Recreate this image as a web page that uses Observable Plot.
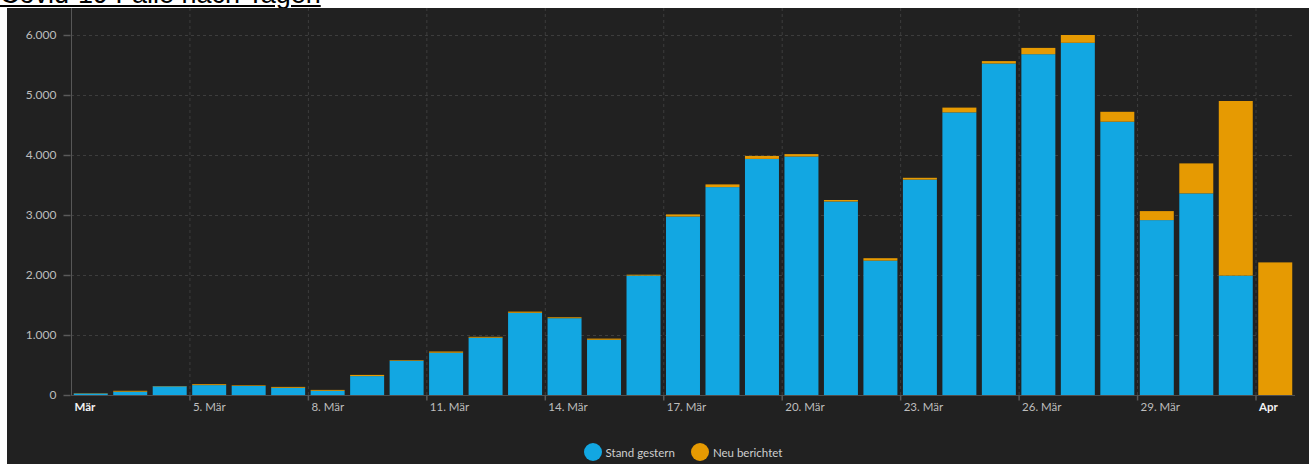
<!DOCTYPE html>
<html lang="de">
<head>
<meta charset="utf-8">
<script src="https://cdn.jsdelivr.net/npm/d3@7"></script>
<script src="https://cdn.jsdelivr.net/npm/@observablehq/plot@0.6"></script>
<style>
  html, body { margin: 0; padding: 0; background: #ffffff; }
  body { position: relative; width: 1309px; height: 464px; overflow: hidden; }
  #title {
    position: absolute; left: 0; top: -21px; z-index: 0;
    font-family: "Liberation Sans", Arial, sans-serif; font-size: 27px; line-height: 30px;
    color: #000; text-decoration: underline; white-space: nowrap;
  }
  #panel {
    position: absolute; left: 7px; top: 8px; width: 1302px; height: 456px;
    background: #212121; z-index: 1;
  }
  #chart svg { display: block; }
  #legend {
    position: absolute; left: 64px; width: 1224px; top: 435px; height: 18px;
    display: flex; justify-content: center; align-items: center; gap: 16px;
    font-family: Lato, "Open Sans", sans-serif; font-size: 11.5px; color: #cfcfcf;
  }
  #legend .item { display: flex; align-items: center; gap: 4px; }
  #legend .swatch { width: 18px; height: 18px; border-radius: 50%; }
</style>
</head>
<body>
<div id="title">Covid-19 Fälle nach Tagen</div>
<div id="panel">
  <div id="chart"></div>
  <div id="legend"></div>
</div>
<script>
// Daily case counts, 2 March to 1 April
const days = [
  "2020-03-02", "2020-03-03", "2020-03-04", "2020-03-05", "2020-03-06", "2020-03-07",
  "2020-03-08", "2020-03-09", "2020-03-10", "2020-03-11", "2020-03-12", "2020-03-13",
  "2020-03-14", "2020-03-15", "2020-03-16", "2020-03-17", "2020-03-18", "2020-03-19",
  "2020-03-20", "2020-03-21", "2020-03-22", "2020-03-23", "2020-03-24", "2020-03-25",
  "2020-03-26", "2020-03-27", "2020-03-28", "2020-03-29", "2020-03-30", "2020-03-31",
  "2020-04-01"
];
const standGestern = [
  25, 55, 145, 165, 150, 120, 70, 315, 570, 705, 955, 1370, 1280, 920, 1990, 2975,
  3465, 3935, 3975, 3225, 2240, 3590, 4710, 5525, 5680, 5870, 4555, 2915, 3360, 1990, 0
];
const neuBerichtet = [
  5, 15, 5, 15, 10, 15, 15, 20, 10, 20, 15, 20, 15, 20, 15, 35,
  45, 50, 40, 25, 40, 30, 80, 40, 105, 130, 165, 150, 500, 2910, 2210
];
const seriesNames = ["Stand gestern", "Neu berichtet"];
const seriesColors = ["#12a7e2", "#e69a02"];

// Axis ticks
const yTicks = [0, 1000, 2000, 3000, 4000, 5000, 6000];
const xTickDays = [
  "2020-03-02", "2020-03-05", "2020-03-08", "2020-03-11", "2020-03-14", "2020-03-17",
  "2020-03-20", "2020-03-23", "2020-03-26", "2020-03-29", "2020-04-01"
];
const xTickLabels = [
  "Mär", "5. Mär", "8. Mär", "11. Mär", "14. Mär", "17. Mär",
  "20. Mär", "23. Mär", "26. Mär", "29. Mär", "Apr"
];
const monthLabels = ["Mär", "Apr"];

const parseDay = s => new Date(s + "T00:00:00Z");
const xStart = parseDay(days[0]);
const xEnd = d3.utcDay.offset(parseDay(days[days.length - 1]), 1);

// One row per day and series; Plot stacks them per day
const rows = [];
days.forEach((s, i) => {
  const start = parseDay(s);
  const end = d3.utcDay.offset(start, 1);
  rows.push({start, end, series: seriesNames[0], value: standGestern[i]});
  rows.push({start, end, series: seriesNames[1], value: neuBerichtet[i]});
});

const ticks = xTickDays.map((s, i) => ({date: parseDay(s), label: xTickLabels[i]}));
const fmt = d => d3.format(",")(d).replace(/,/g, ".");

// Short tick marks as dot symbols
const hTick = {draw(ctx) { ctx.moveTo(-3.5, 0); ctx.lineTo(3.5, 0); }};
const vTick = {draw(ctx) { ctx.moveTo(0, -2.5); ctx.lineTo(0, 2.5); }};

const chart = Plot.plot({
  width: 1302,
  height: 412,
  marginLeft: 64,
  marginRight: 14,
  marginTop: 0,
  marginBottom: 25,
  style: {background: "transparent", fontFamily: "Lato, 'Open Sans', sans-serif", fontSize: "11.5px"},
  x: {type: "utc", domain: [xStart, xEnd], axis: null},
  y: {domain: [0, 6450], axis: null},
  color: {domain: seriesNames, range: seriesColors},
  marks: [
    // dashed grid
    Plot.ruleY(yTicks.filter(d => d > 0), {stroke: "#3d3d3d", strokeDasharray: "3,3"}),
    Plot.ruleX(ticks.slice(1), {x: "date", stroke: "#3d3d3d", strokeDasharray: "3,3"}),
    // stacked daily bars
    Plot.rectY(rows, {
      x1: "start", x2: "end", y: "value", fill: "series",
      insetLeft: 2.75, insetRight: 2.75
    }),
    // axis lines
    Plot.ruleY([0], {stroke: "#4e4e4e"}),
    Plot.ruleX([xStart], {stroke: "#575757"}),
    // y ticks and labels
    Plot.dot(yTicks, {y: d => d, frameAnchor: "left", symbol: hTick, stroke: "#5a5a5a", dx: -4.5}),
    Plot.text(yTicks, {y: d => d, text: fmt, frameAnchor: "left", textAnchor: "end", dx: -15, fill: "#bdbdbd", fontSize: 12}),
    // x ticks and labels
    Plot.dot(ticks.slice(1), {x: "date", frameAnchor: "bottom", symbol: vTick, stroke: "#5a5a5a", dy: 2.5}),
    Plot.text(ticks.filter(t => !monthLabels.includes(t.label)), {
      x: "date", text: "label", frameAnchor: "bottom", textAnchor: "start", dx: 3, dy: 15, fill: "#bdbdbd"
    }),
    Plot.text(ticks.filter(t => monthLabels.includes(t.label)), {
      x: "date", text: "label", frameAnchor: "bottom", textAnchor: "start", dx: 3, dy: 15,
      fill: "#f2f2f2", fontWeight: "bold"
    })
  ]
});
document.getElementById("chart").append(chart);

// Legend
const legend = document.getElementById("legend");
seriesNames.forEach((name, i) => {
  const item = document.createElement("div");
  item.className = "item";
  const sw = document.createElement("span");
  sw.className = "swatch";
  sw.style.background = seriesColors[i];
  const label = document.createElement("span");
  label.textContent = name;
  item.append(sw, label);
  legend.append(item);
});
</script>
</body>
</html>
